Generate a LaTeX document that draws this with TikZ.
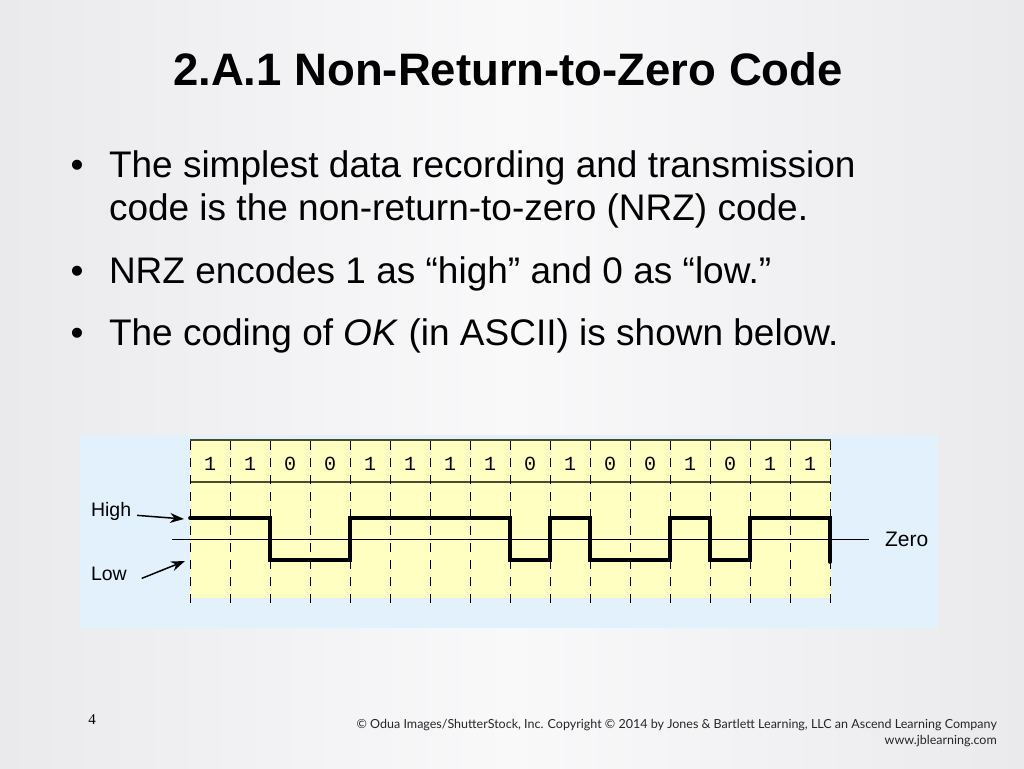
\documentclass[tikz,border=0pt]{standalone}
\usepackage{fontspec}
\setmainfont{Liberation Sans}
\newfontfamily\footfont{Lato}
\newfontfamily\bitfont{Liberation Mono}
\newfontfamily\numfont{Liberation Serif}
\usetikzlibrary{arrows.meta}
\definecolor{slidebg}{HTML}{EAEAED}
\definecolor{slidemid}{HTML}{F9F9FA}
\definecolor{panelblue}{HTML}{E3F1FC}
\definecolor{cellyellow}{HTML}{FFFFC2}
\definecolor{olive}{HTML}{4A4A30}
\tikzset{
  txt/.style={inner sep=0pt, outer sep=0pt, anchor=base west, text=black},
  bodytxt/.style={txt, font=\fontsize{37}{40}\selectfont},
  bulletdot/.style={inner sep=0pt, anchor=base, font=\fontsize{37}{40}\selectfont},
  lbl/.style={txt, font=\fontsize{19.5}{22}\selectfont},
  bitlbl/.style={inner sep=0pt, font=\bitfont\fontsize{20}{22}\selectfont},
  gridline/.style={black, line width=0.9pt, dash pattern=on 9pt off 8pt, dash phase=0pt},
  rowline/.style={olive, line width=1.1pt},
  wave/.style={black, line width=3.6pt, line join=miter, line cap=round},
  pointer/.style={black, line width=1.5pt, -{Stealth[length=14pt,width=10pt]}},
}
\begin{document}
\begin{tikzpicture}[x=1pt,y=-1pt]
\useasboundingbox (0,0) rectangle (1024,768);
% slide background
\shade[left color=slidebg, right color=slidebg, middle color=slidemid] (0,0) rectangle (1024,768);

% title
\node[inner sep=0pt, anchor=base, font=\bfseries\fontsize{45.5}{50}\selectfont] (title) at (508,85) {2.A.1 Non-Return-to-Zero Code};

% bullets
\node[bulletdot] (b1) at (77,177) {\textbullet};
\node[bodytxt] (l1a) at (109,177) {The simplest data recording and transmission};
\node[bodytxt] (l1b) at (109,220) {code is the non-return-to-zero (NRZ) code.};
\node[bulletdot] (b2) at (77,283) {\textbullet};
\node[bodytxt] (l2) at (109,283) {NRZ encodes 1 as “high” and 0 as “low.”};
\node[bulletdot] (b3) at (77,345) {\textbullet};
\node[bodytxt] (l3) at (109,345) {The coding of \textit{OK} (in ASCII) is shown below.};

% diagram panels
\fill[panelblue] (80,435) rectangle (938,628);
\fill[cellyellow] (190,440) rectangle (831,598);
\draw[rowline] (190,440) -- (831,440);
\draw[rowline] (190,482) -- (831,482);
\foreach \k in {0,...,16} {
  \draw[gridline] (190+40*\k,441) -- (190+40*\k,604);
}
% bits
\foreach \b [count=\i from 0] in {1,1,0,0,1,1,1,1,0,1,0,0,1,0,1,1} {
  \node[bitlbl] (bit\i) at (210+40*\i,464) {\b};
}
% zero line
\node[lbl, anchor=west, font=\fontsize{21}{24}\selectfont] (zerolbl) at (885,539) {Zero};
\coordinate (zerostart) at (172,539);
\draw[black, line width=1pt] (zerostart) -- ([xshift=-16pt]zerolbl.west);

% waveform
\coordinate (w0) at (190,518);
\draw[wave] (w0) -- (270,518) -- (270,560) -- (350,560) -- (350,518)
  -- (510,518) -- (510,560) -- (550,560) -- (550,518) -- (590,518)
  -- (590,560) -- (670,560) -- (670,518) -- (710,518) -- (710,560)
  -- (750,560) -- (750,518) -- (830,518) -- (830,562);

% labels with arrows
\node[lbl] (highlbl) at (91,516) {High};
\node[lbl] (lowlbl) at (91,580) {Low};
\coordinate (hightip) at (184,519);
\coordinate (lowtip) at (185,561);
\draw[pointer] ([xshift=6pt,yshift=-2pt]highlbl.mid east) -- (hightip);
\draw[pointer] ([xshift=15pt,yshift=-1pt]lowlbl.mid east) -- (lowtip);

% footer
\node[inner sep=0pt, anchor=base, font=\numfont\fontsize{15}{17}\selectfont] (pagenum) at (92,724) {4};
\node[inner sep=0pt, anchor=base east, font=\footfont\fontsize{12.5}{14}\selectfont, text=black!85] (foot1) at (997,728) {© Odua Images/ShutterStock, Inc. Copyright © 2014 by Jones \& Bartlett Learning, LLC an Ascend Learning Company};
\node[inner sep=0pt, anchor=base east, font=\footfont\fontsize{12.5}{14}\selectfont, text=black!85] (foot2) at (997,744) {www.jblearning.com};
\end{tikzpicture}
\end{document}
